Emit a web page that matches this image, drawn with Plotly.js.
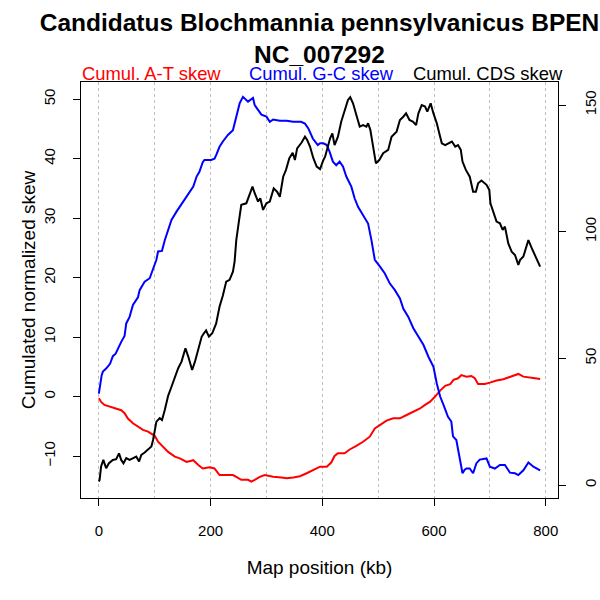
<!DOCTYPE html>
<html><head><meta charset="utf-8">
<script src="https://cdn.plot.ly/plotly-3.0.1.min.js"></script>
<style>html,body{margin:0;padding:0;background:#fff}#chart{width:600px;height:600px}</style>
</head><body><div id="chart"></div>
<script>
// Cumulative A-T skew (left axis)
const atPos = [0,4,10,19,31,40,46,52,61,70,79,88,94,100,106,115,124,136,145,157,169,178,186,198,207,216,228,240,246,255,267,273,279,288,297,312,327,336,348,360,372,384,396,408,416,422,428,440,449,461,473,485,494,503,515,527,539,551,563,575,584,593,602,611,620,629,635,643,649,658,667,673,679,691,700,712,724,733,742,751,760,772,781,790];
const atSkew = [-0.3,-0.9,-1.4,-1.7,-2.0,-2.3,-2.8,-3.7,-4.5,-5.1,-5.6,-5.9,-6.2,-6.6,-7.6,-8.4,-9.3,-10.1,-10.4,-11.0,-10.7,-11.5,-12.1,-11.9,-12.1,-13.2,-13.2,-13.2,-13.5,-14.0,-14.0,-14.3,-14.0,-13.5,-13.2,-13.5,-13.6,-13.75,-13.6,-13.4,-12.9,-12.35,-11.8,-11.8,-11.1,-10.0,-9.55,-9.55,-8.9,-8.3,-7.6,-6.75,-5.35,-4.8,-4.05,-3.66,-3.66,-3.1,-2.55,-2.0,-1.4,-0.86,0.0,1.0,1.8,2.1,2.8,3.07,3.6,3.35,3.46,3.07,2.1,2.1,2.34,2.7,2.9,3.2,3.57,3.8,3.35,3.24,3.07,2.95];

// Cumulative G-C skew (left axis)
const gcPos = [0,2.4,5,7.2,13,20,25,30,34,40,46,49,55,61,70,73,80,82,91,97,103,106,113,118,124,130,139,145,151,160,169,175,180,186,189,201,207,210,216,222,231,240,245,249,252,258,263,267,276,279,285,291,300,306,312,324,336,348,362,369,375,383,392,396,402,408,413,419,425,431,437,443,452,458,464,473,482,488,494,503,512,521,530,539,545,554,563,572,581,590,599,605,611,617,625,631,634,640,643,646,651,655,658,664,670,676,682,694,700,709,718,727,736,745,751,760,769,778,790];
const gcSkew = [0.5,2.2,3.6,4.2,4.7,5.5,6.8,7.2,8.1,9.2,10.2,12.3,13.4,15.4,16.7,17.9,19.0,19.3,19.9,21.6,23.0,24.4,24.5,26.3,28.0,29.7,31.1,31.9,32.8,33.9,35.3,37.0,37.8,39.4,39.8,39.8,40.0,40.6,42.0,42.9,44.0,44.8,46.5,47.9,49.3,50.4,49.9,49.6,50.2,49.0,48.2,47.4,47.1,46.2,46.6,46.4,46.4,46.2,46.2,45.9,45.1,43.4,42.3,42.6,42.6,42.3,41.2,39.5,38.9,39.5,38.7,37.0,35.3,33.3,31.9,30.5,29.1,26.3,23.0,21.9,20.7,19.0,17.9,16.5,14.8,13.4,11.5,10.1,8.7,6.7,5.0,2.2,0.0,-1.4,-3.4,-4.2,-6.7,-7.3,-9.0,-10.1,-12.9,-12.3,-12.1,-12.1,-12.9,-11.2,-10.6,-10.4,-11.8,-12.1,-11.5,-11.5,-12.8,-12.9,-13.2,-12.4,-11.1,-11.8,-12.4];

// Cumulative CDS skew (right axis)
const cdsPos = [0,1.3,4,8,13,18,25,31,36,40,44,49,55,61,67,72,76,82,88,94,97,100,103,109,113,118,121,124,130,136,142,148,151,155,160,167,172,178,184,188,192,197,203,210,216,222,228,234,240,243,246,251,255,264,270,275,279,285,289,294,300,306,313,319,324,330,335,341,347,351,355,363,369,373,378,384,390,396,402,405,414,418,422,428,434,440,446,450,455,461,467,473,479,482,486,491,496,502,509,518,524,533,539,545,550,556,562,568,572,578,584,588,594,599,605,611,614,620,626,632,638,643,648,651,657,664,670,675,679,685,694,699,701,706,712,718,723,727,733,739,745,751,754,760,765,769,775,781,790];
const cdsSkew = [1.4,2.0,7.3,9.9,6.6,8.6,9.9,10.2,12.5,9.9,8.6,10.6,9.9,10.6,11.2,9.3,11.9,12.8,13.9,15.2,17.8,21.1,25.0,26.4,25.7,29.6,32.9,35.2,38.8,42.5,46.1,48.7,51.4,54.0,50.7,45.4,48.7,53.3,58.5,59.9,61.0,58.6,59.9,63.8,70.4,74.8,80.3,81.0,84.2,88.2,96.7,104.6,110.6,111.2,115.2,117.8,115.2,111.9,113.2,108.6,111.2,111.9,117.1,115.8,113.8,121.7,124.4,129.0,131.2,128.3,132.9,135.2,137.5,136.2,133.6,129.0,125.7,124.7,128.3,129.6,136.9,138.8,134.2,137.5,143.5,148.1,152.0,153.1,150.7,146.1,141.5,142.1,141.5,142.8,140.2,133.6,127.0,128.3,131.0,132.3,137.5,139.5,144.1,145.4,146.7,144.1,143.5,142.1,146.7,150.0,149.4,147.4,150.7,146.7,142.8,137.5,134.9,134.2,134.9,135.6,133.6,134.2,132.3,127.7,124.4,121.7,115.8,115.8,119.1,120.2,118.5,116.5,111.2,107.9,104.0,103.3,100.7,102.0,95.4,92.1,90.8,86.9,88.8,90.2,93.5,96.7,93.5,90.8,86.2];

const xTicks = [0, 200, 400, 600, 800];
const leftTicks = [-10, 0, 10, 20, 30, 40, 50];
const rightTicks = [0, 50, 100, 150];
const seriesNames = ['Cumul. A-T skew', 'Cumul. G-C skew', 'Cumul. CDS skew'];
const seriesColors = ['#FF0000', '#0000FF', '#000000'];
const titleText = 'Candidatus Blochmannia pennsylvanicus BPEN<br>NC_007292';
const xTitle = 'Map position (kb)';
const yTitle = 'Cumulated normalized skew';

const FONT = 'Liberation Sans, Arial, Helvetica, sans-serif';

const traces = [
  {x: atPos, y: atSkew, yaxis: 'y', name: seriesNames[0]},
  {x: gcPos, y: gcSkew, yaxis: 'y', name: seriesNames[1]},
  {x: cdsPos, y: cdsSkew, yaxis: 'y2', name: seriesNames[2]}
].map((t, i) => Object.assign(t, {
  type: 'scatter', mode: 'lines', xaxis: 'x',
  line: {color: seriesColors[i], width: 2, shape: 'linear'},
  hoverinfo: 'skip'
}));

const legendX = [0.147, 0.505, 0.853];
const annotations = seriesNames.map((n, i) => ({
  text: n, xref: 'paper', yref: 'paper', x: legendX[i], y: 1.021,
  xanchor: 'center', yanchor: 'middle', showarrow: false,
  font: {family: FONT, size: 18.4, color: seriesColors[i]}
}));

const axisCommon = {
  showline: true, linecolor: '#000', linewidth: 1,
  ticks: 'outside', ticklen: 7, tickcolor: '#000', tickwidth: 1,
  zeroline: false, tickfont: {family: FONT, size: 15, color: '#000'}
};

const layout = {
  width: 600, height: 600,
  margin: {l: 81, r: 42, t: 82, b: 102, pad: 0},
  paper_bgcolor: '#fff', plot_bgcolor: '#fff',
  showlegend: false,
  title: {
    text: titleText, xref: 'paper', x: 0.5, xanchor: 'center',
    yref: 'container', y: 0.948, yanchor: 'top',
    font: {family: FONT, size: 24.5, color: '#000', weight: 'bold'}
  },
  xaxis: Object.assign({}, axisCommon, {
    range: [-32, 822], tickmode: 'array', tickvals: xTicks,
    mirror: true, showgrid: true, gridcolor: '#bebebe', griddash: '3px,3px', gridwidth: 1,
    minor: {dtick: 100, tick0: 0, showgrid: true, gridcolor: '#bebebe', griddash: '3px,3px', gridwidth: 1, ticks: ''},
    ticklabelstandoff: 12,
    title: {text: xTitle, font: {family: FONT, size: 19, color: '#000'}, standoff: 22}
  }),
  yaxis: Object.assign({}, axisCommon, {
    range: [-17.06, 52.9], tickmode: 'array', tickvals: leftTicks,
    mirror: true, showgrid: false, tickangle: -90,
    ticklabelstandoff: 12,
    title: {text: yTitle, font: {family: FONT, size: 19, color: '#000'}, standoff: 0}
  }),
  yaxis2: Object.assign({}, axisCommon, {
    range: [-5.13, 159.1], tickmode: 'array', tickvals: rightTicks,
    overlaying: 'y', side: 'right', anchor: 'x', showgrid: false, tickangle: -90,
    ticklabelstandoff: 12
  }),
  annotations: annotations
};

Plotly.newPlot('chart', traces, layout, {staticPlot: true, displayModeBar: false});
</script>
</body></html>
